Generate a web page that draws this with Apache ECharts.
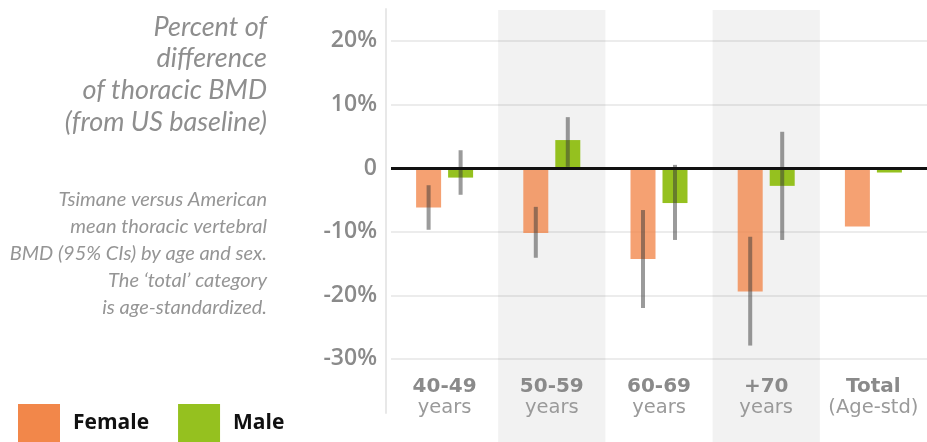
<!DOCTYPE html>
<html>
<head>
<meta charset="utf-8">
<script src="https://cdn.jsdelivr.net/npm/echarts@6/dist/echarts.min.js"></script>
<style>
html,body{margin:0;padding:0;background:#fff;}
#chart{width:927px;height:442px;}
</style>
</head>
<body>
<div id="chart"></div>
<script>
// ---- data ----
var categories = ['40-49', '50-59', '60-69', '+70', 'Total'];
var categorySub = ['years', 'years', 'years', 'years', '(Age-std)'];
var female = [-6.2, -10.2, -14.3, -19.4, -9.2];
var male = [-1.5, 4.4, -5.5, -2.8, -0.7];
var femaleLow = [-9.7, -14.1, -22.0, -27.9, null];
var femaleHigh = [-2.7, -6.1, -6.6, -10.8, null];
var maleLow = [-4.2, 0.2, -11.3, -11.3, null];
var maleHigh = [2.8, 8.0, 0.5, 5.7, null];
var yMin = -38.5, yMax = 25;

var titleText = 'Percent of\ndifference\nof thoracic BMD\n(from US baseline)';
var noteText = 'Tsimane versus American\nmean thoracic vertebral\nBMD (95% CIs) by age and sex.\nThe \u2018total\u2019 category\nis age-standardized.';

// ---- styles ----
var FEMALE = '#f2874a', MALE = '#95c11f';
var BAR_W = 25, BAR_GAP = 7;
var SIDE = (BAR_W + BAR_GAP) / 2;

function errData(lo, hi) {
  var out = [];
  for (var i = 0; i < lo.length; i++) {
    if (lo[i] != null) out.push([i, lo[i], hi[i]]);
  }
  return out;
}
function errRender(sign) {
  return function (params, api) {
    var p1 = api.coord([api.value(0), api.value(1)]);
    var p2 = api.coord([api.value(0), api.value(2)]);
    var x = p1[0] + sign * SIDE;
    return {
      type: 'line',
      shape: { x1: x, y1: p1[1], x2: x, y2: p2[1] },
      style: { stroke: 'rgba(55,55,55,0.5)', lineWidth: 4 }
    };
  };
}

var chart = echarts.init(document.getElementById('chart'), null, { renderer: 'canvas' });
chart.setOption({
  animation: false,
  backgroundColor: '#fff',
  title: [
    {
      text: titleText, left: 267, top: 11, padding: 0,
      textAlign: 'right',
      textStyle: { fontFamily: 'Lato', fontStyle: 'italic', fontWeight: 'normal', fontSize: 27, lineHeight: 31.7, color: '#8e8e8e' }
    },
    {
      text: noteText, left: 267, top: 186, padding: 0,
      textAlign: 'right',
      textStyle: { fontFamily: 'Lato', fontStyle: 'italic', fontWeight: 'normal', fontSize: 20, lineHeight: 27, color: '#959595' }
    }
  ],
  legend: {
    left: 18, top: 404, padding: 0,
    itemWidth: 42, itemHeight: 38, itemGap: 29,
    icon: 'rect',
    selectedMode: false,
    textStyle: { fontFamily: 'Open Sans', fontWeight: 'bold', fontSize: 21, color: '#111', padding: [8, 0, 0, 8] },
    data: [
      { name: 'Female', itemStyle: { color: FEMALE, opacity: 1 } },
      { name: 'Male', itemStyle: { color: MALE, opacity: 1 } }
    ]
  },
  grid: [
    { left: 391, width: 540, top: 10, bottom: 0, containLabel: false },
    { left: 391, width: 540, top: 9, height: 404, containLabel: false }
  ],
  xAxis: [
    {
      gridIndex: 0, type: 'category', data: categories, z: 0,
      axisLine: { show: false }, axisTick: { show: false }, axisLabel: { show: false },
      splitLine: { show: false },
      splitArea: { show: true, areaStyle: { color: ['rgba(0,0,0,0)', '#f2f2f2'] } }
    },
    {
      gridIndex: 1, type: 'category', data: categories, z: 1,
      axisLine: { show: false }, axisTick: { show: false },
      splitLine: { show: false }, splitArea: { show: false },
      axisLabel: {
        margin: -37,
        interval: 0,
        formatter: function (v, i) { return '{b|' + v + '}\n{r|' + categorySub[i] + '}'; },
        rich: {
          b: { fontFamily: 'DejaVu Sans', fontWeight: 'bold', fontSize: 20, color: '#8a8a8a', lineHeight: 21, align: 'center' },
          r: { fontFamily: 'DejaVu Sans', fontWeight: 'normal', fontSize: 19.5, color: '#9a9a9a', lineHeight: 21, align: 'center' }
        }
      }
    }
  ],
  yAxis: [
    { gridIndex: 0, type: 'value', min: 0, max: 1, show: false },
    {
      gridIndex: 1, type: 'value', min: yMin, max: yMax, splitNumber: 6, z: 1,
      offset: 5,
      axisLine: { show: true, lineStyle: { color: '#e8e8e8', width: 2 } },
      axisTick: { show: false },
      axisLabel: {
        margin: 9,
        fontFamily: 'Open Sans', fontWeight: 600, fontSize: 23, color: '#8a8a8a',
        formatter: function (v) {
          if (Math.abs(v % 10) > 1e-6) return '';
          return v === 0 ? '0' : v + '%';
        }
      },
      splitLine: { show: true, showMinLine: false, showMaxLine: false, lineStyle: { color: 'rgba(0,0,0,0.075)', width: 2 } }
    }
  ],
  series: [
    {
      name: 'Female', type: 'bar', xAxisIndex: 1, yAxisIndex: 1,
      data: female, barWidth: BAR_W, barGap: (BAR_GAP / BAR_W * 100) + '%',
      itemStyle: { color: FEMALE, opacity: 0.78 },
      z: 2,
      markLine: {
        silent: true, symbol: 'none', z: 5,
        label: { show: false },
        lineStyle: { color: '#111', width: 3, type: 'solid' },
        data: [{ yAxis: 0 }]
      }
    },
    {
      name: 'Male', type: 'bar', xAxisIndex: 1, yAxisIndex: 1,
      data: male, barWidth: BAR_W,
      itemStyle: { color: MALE },
      z: 2
    },
    {
      name: 'FemaleCI', type: 'custom', xAxisIndex: 1, yAxisIndex: 1, z: 4,
      renderItem: errRender(-1), data: errData(femaleLow, femaleHigh), silent: true
    },
    {
      name: 'MaleCI', type: 'custom', xAxisIndex: 1, yAxisIndex: 1, z: 4,
      renderItem: errRender(1), data: errData(maleLow, maleHigh), silent: true
    }
  ]
});
</script>
</body>
</html>
